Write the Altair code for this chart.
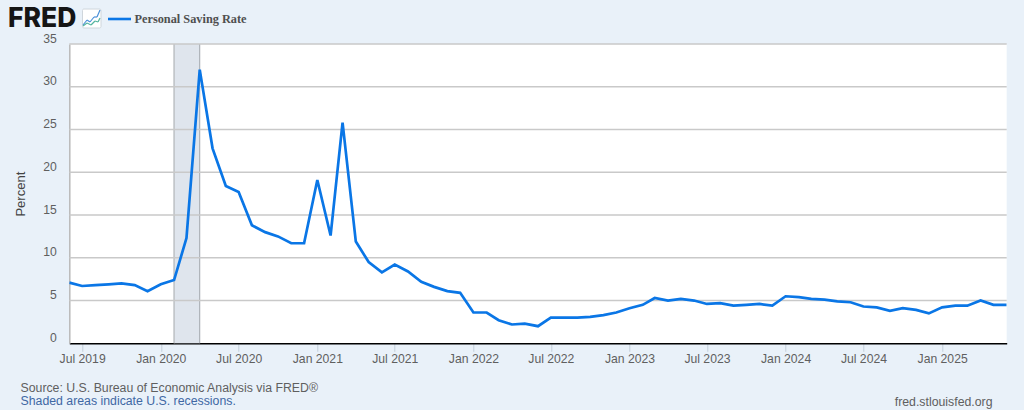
import altair as alt
import pandas as pd

# Monthly observations, Jun 2019 - Jun 2025
start_month = "2019-06-01"
saving_rate = [
    7.1, 6.7, 6.8, 6.9, 7.0, 6.8, 6.1,
    6.9, 7.4, 12.3, 32.0, 22.8, 18.4, 17.7, 13.8, 13.0, 12.5, 11.7, 11.7,
    19.1, 12.6, 25.8, 11.9, 9.5, 8.3, 9.2, 8.4, 7.2, 6.6, 6.1, 5.9,
    3.6, 3.6, 2.7, 2.2, 2.3, 2.0, 3.0, 3.0, 3.0, 3.1, 3.3, 3.6,
    4.1, 4.5, 5.3, 5.0, 5.2, 5.0, 4.6, 4.7, 4.4, 4.5, 4.6, 4.4,
    5.5, 5.4, 5.2, 5.1, 4.9, 4.8, 4.3, 4.2, 3.8, 4.1, 3.9, 3.5,
    4.2, 4.4, 4.4, 5.0, 4.5, 4.5,
]
y_ticks = [0, 5, 10, 15, 20, 25, 30, 35]
x_tick_years_months = [(y, m) for y in range(2019, 2026) for m in (1, 7)
                       if (y, m) not in [(2019, 1), (2025, 7)]]
recession = {"start": "2020-02-01", "end": "2020-04-01"}

BG = "#e9f1f9"
BLUE = "#0a76e6"
GRID = "#c9c9c9"
TXT = "#5f5f5f"
FONT = "Liberation Sans"

W, H = 937.4, 299.3
PAD_L, PAD_T = 69.3, 44
TOTAL_H = 410
TOTAL_W = 1024


def px(x):  # page pixel to plot coordinates
    return x - PAD_L


def py(y):
    return y - PAD_T


df = pd.DataFrame({
    "date": pd.date_range(start_month, periods=len(saving_rate), freq="MS").strftime("%Y-%m-%d"),
    "rate": saving_rate,
})
x_scale = alt.Scale(type="utc", domain=["2019-06-01", "2025-06-01"])
y_scale = alt.Scale(domain=[0, 35], nice=False)

x_axis = alt.Axis(
    values=[alt.DateTime(year=y, month=m, date=1, utc=True) for y, m in x_tick_years_months],
    labelExpr="utcFormat(datum.value, '%b %Y')", title=None, grid=False,
    domainColor="#000000", domainWidth=1.6, tickColor="#c4cfdb", tickSize=8, tickWidth=1,
    labelColor=TXT, labelFont=FONT, labelFontSize=12.2, labelPadding=1, labelOverlap=False,
    labelFlush=False,
)
y_axis = alt.Axis(
    values=y_ticks, title="Percent", grid=False, domainColor="#b9b9b9", domainWidth=1.5,
    tickSize=0, labelPadding=13, labelColor=TXT, labelFont=FONT, labelFontSize=12.2,
    labelBaseline="bottom", labelOffset=1,
    titleColor="#444444", titleFont=FONT, titleFontSize=13, titleFontWeight="normal",
    titleX=-42, titleY=H / 2,
)

rec_df = pd.DataFrame([recession])
shade = alt.Chart(rec_df).mark_rect(color="#dfe5ed").encode(
    x=alt.X("start:T", scale=x_scale, axis=x_axis), x2="end:T")
rec_left = alt.Chart(rec_df).mark_rule(color="#bcc0c4", strokeWidth=1.5).encode(x=alt.X("start:T", scale=x_scale))
rec_right = alt.Chart(rec_df).mark_rule(color="#a0a6ac", strokeWidth=1).encode(x=alt.X("end:T", scale=x_scale))
grid = alt.Chart(pd.DataFrame({"v": y_ticks[1:]})).mark_rule(color=GRID, strokeWidth=1.5).encode(
    y=alt.Y("v:Q", scale=y_scale, axis=y_axis))
line = alt.Chart(df).mark_line(color=BLUE, strokeWidth=2.7, strokeJoin="miter", clip=True).encode(
    x=alt.X("date:T", scale=x_scale),
    y=alt.Y("rate:Q", scale=y_scale),
)


def text(s, x, y, **kw):
    return alt.Chart().mark_text(align=kw.pop("align", "left"), baseline="middle", **kw).encode(
        x=alt.value(px(x)), y=alt.value(py(y)), text=alt.value(s))


def seg(x1, y1, x2, y2, color, width):
    return alt.Chart().mark_rule(color=color, strokeWidth=width).encode(
        x=alt.value(px(x1)), x2=alt.value(px(x2)), y=alt.value(py(y1)), y2=alt.value(py(y2)))


icon_box = alt.Chart().mark_rect(fill="#ffffff", stroke="#cfd6dc", strokeWidth=1, cornerRadius=1.5).encode(
    x=alt.value(px(82.5)), x2=alt.value(px(101)), y=alt.value(py(9)), y2=alt.value(py(28)))
icon_blue = [(83, 25, 87, 20), (87, 20, 90, 22), (90, 22, 94, 17), (94, 17, 97, 17), (97, 17, 100, 10)]
icon_green = [(83, 26, 87, 23), (87, 23, 91, 25), (91, 25, 95, 21), (95, 21, 98, 22), (98, 22, 100, 18)]

deco = [
    text("FRED", 8, 18.5, font="Inter", fontSize=26.5, fontWeight=800, color="#151515"),
    icon_box,
    *[seg(*s, "#4a90d9", 1.2) for s in icon_blue],
    *[seg(*s, "#55b5a0", 1.2) for s in icon_green],
    seg(108, 19, 131, 19, BLUE, 2.6),
    text("Personal Saving Rate", 134.5, 19, font="Liberation Serif", fontSize=12.3, fontWeight="bold", color="#4f4f4f"),
    text("Source: U.S. Bureau of Economic Analysis via FRED®", 20.5, 388, font=FONT, fontSize=12.3, color=TXT),
    text("Shaded areas indicate U.S. recessions.", 20.5, 401, font=FONT, fontSize=12.3, color="#3f68a4"),
    text("fred.stlouisfed.org", 992.5, 401.5, font=FONT, fontSize=12.3, color=TXT, align="right"),
]

chart = alt.layer(shade, rec_left, rec_right, grid, line, *deco).properties(
    width=W, height=H, background=BG,
    padding={"left": PAD_L, "top": PAD_T, "right": TOTAL_W - PAD_L - W, "bottom": TOTAL_H - PAD_T - H},
    autosize=alt.AutoSizeParams(type="none"),
).configure_view(fill="#ffffff", stroke=None)

chart.save("out.html", embed_options={
    "renderer": "svg", "actions": False,
    "defaultStyle": f"html,body{{background:{BG};margin:0;overflow:hidden}}",
})
